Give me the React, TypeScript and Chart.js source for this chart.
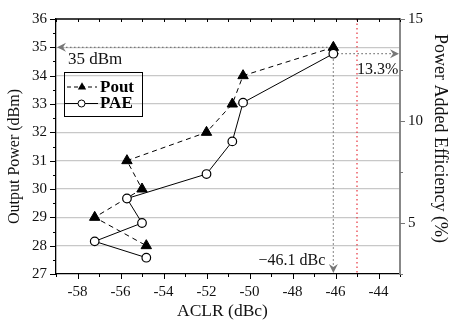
import React, { useEffect, useRef } from "react";
import { Chart, registerables } from "chart.js";

Chart.register(...registerables);

// ---- data ----
const aclr = [-46.1, -50.3, -50.8, -52.0, -55.7, -55.0, -57.2, -54.8];
const pout = [35, 34, 33, 32, 31, 30, 29, 28];
const pae = [13.3, 10.9, 9.0, 7.4, 6.2, 5.0, 4.1, 3.3];
const xTicks = [-58, -56, -54, -52, -50, -48, -46, -44];
const yLeftTicks = [27, 28, 29, 30, 31, 32, 33, 34, 35, 36];
const yRightTicks = [5, 10, 15];
const markAclr = -46.1;
const markPout = 35;
const markPae = 13.3;
const limitAclr = -45;
const labels = {
  pout: "35 dBm",
  pae: "13.3%",
  aclr: "\u221246.1 dBc",
  xTitle: "ACLR (dBc)",
  yTitle: "Output Power (dBm)",
  y1Title: "Power Added Efficiency (%)",
  s1: "Pout",
  s2: "PAE",
};

const SERIF = "'Liberation Serif', 'Times New Roman', serif";

function arrow(ctx: CanvasRenderingContext2D, tx: number, ty: number, dx: number, dy: number) {
  const L = 9, W = 4.5, N = 3;
  const nx = -dy, ny = dx;
  ctx.beginPath();
  ctx.moveTo(tx, ty);
  ctx.lineTo(tx - dx * L + nx * W, ty - dy * L + ny * W);
  ctx.lineTo(tx - dx * (L - N), ty - dy * (L - N));
  ctx.lineTo(tx - dx * L - nx * W, ty - dy * L - ny * W);
  ctx.closePath();
  ctx.fill();
}

function seg(ctx: CanvasRenderingContext2D, x1: number, y1: number, x2: number, y2: number) {
  ctx.beginPath();
  ctx.moveTo(x1, y1);
  ctx.lineTo(x2, y2);
  ctx.stroke();
}

const overlay = {
  id: "overlay",
  beforeDatasetsDraw(chart: any) {
    const { ctx, chartArea: a, scales } = chart;
    const x = scales.x, yl = scales.y, yr = scales.y1;
    ctx.save();
    // red limit line
    ctx.strokeStyle = "#e8323c";
    ctx.lineWidth = 1.2;
    ctx.setLineDash([1.5, 3]);
    const rx = x.getPixelForValue(limitAclr);
    seg(ctx, rx, a.top, rx, a.bottom);
    // gray guide lines
    ctx.strokeStyle = "#777";
    ctx.fillStyle = "#777";
    ctx.lineWidth = 1.2;
    ctx.setLineDash([1.5, 2.5]);
    const mx = x.getPixelForValue(markAclr);
    const py = yl.getPixelForValue(markPout);
    const ey = yr.getPixelForValue(markPae);
    seg(ctx, a.left + 6, py, mx, py);
    seg(ctx, mx, ey, a.right - 6, ey);
    seg(ctx, mx, py, mx, a.bottom - 6);
    ctx.setLineDash([]);
    arrow(ctx, a.left + 1, py, -1, 0);
    arrow(ctx, a.right - 1, ey, 1, 0);
    arrow(ctx, mx, a.bottom - 1, 0, 1);
    // labels
    ctx.fillStyle = "#111";
    ctx.textBaseline = "alphabetic";
    ctx.font = `17px ${SERIF}`;
    ctx.textAlign = "left";
    ctx.fillText(labels.pout, a.left + 12, py + 16.5);
    ctx.font = `16px ${SERIF}`;
    ctx.fillText(labels.pae, rx, ey + 20);
    ctx.textAlign = "right";
    ctx.fillText(labels.aclr, mx - 8, a.bottom - 9);
    ctx.restore();
  },
  afterDraw(chart: any) {
    const { ctx, chartArea: a, scales } = chart;
    const x = scales.x, yl = scales.y, yr = scales.y1;
    ctx.save();
    ctx.strokeStyle = "#000";
    ctx.lineWidth = 1;
    // top border
    ctx.lineWidth = 1.3;
    seg(ctx, a.left, a.top, a.right, a.top);
    ctx.lineWidth = 1;
    // top & bottom ticks
    for (let v = -59; v <= -43; v++) {
      const px = Math.round(x.getPixelForValue(v)) + 0.5;
      const major = v % 2 === 0;
      seg(ctx, px, a.bottom, px, a.bottom + (major ? 5 : 3));
      seg(ctx, px, a.top, px, a.top + 3);
    }
    // left ticks
    for (let v = 27; v <= 36; v += 0.5) {
      const py = Math.round(yl.getPixelForValue(v)) + 0.5;
      const major = Number.isInteger(v);
      seg(ctx, a.left - (major ? 6 : 3), py, a.left, py);
    }
    // right ticks
    ctx.strokeStyle = "#777";
    for (let v = 2.5; v <= 15; v += 2.5) {
      const py = Math.round(yr.getPixelForValue(v)) + 0.5;
      const major = v % 5 === 0;
      seg(ctx, a.right, py, a.right + (major ? 5 : 3), py);
    }
    // legend
    ctx.strokeStyle = "#000";
    ctx.lineWidth = 1;
    ctx.strokeRect(64.5, 72.5, 78, 44);
    ctx.setLineDash([4, 3]);
    seg(ctx, 67, 87, 97, 87);
    ctx.setLineDash([]);
    ctx.fillStyle = "#000";
    ctx.beginPath();
    const tr = 4.8, tx = 82, ty = 87;
    ctx.moveTo(tx, ty - tr);
    ctx.lineTo(tx + tr * 0.866, ty + tr / 2);
    ctx.lineTo(tx - tr * 0.866, ty + tr / 2);
    ctx.closePath();
    ctx.fill();
    seg(ctx, 65, 103.5, 98, 103.5);
    ctx.beginPath();
    ctx.arc(81.5, 103.5, 3.5, 0, Math.PI * 2);
    ctx.fillStyle = "#fff";
    ctx.fill();
    ctx.stroke();
    ctx.fillStyle = "#000";
    ctx.font = `bold 17px ${SERIF}`;
    ctx.textAlign = "left";
    ctx.textBaseline = "middle";
    ctx.fillText(labels.s1, 100, 87.5);
    ctx.fillText(labels.s2, 100, 104);
    // axis titles
    ctx.fillStyle = "#111";
    ctx.textAlign = "center";
    ctx.font = `17.5px ${SERIF}`;
    ctx.fillText(labels.xTitle, 222.5, 311.5);
    ctx.save();
    ctx.translate(14.5, 156.5);
    ctx.rotate(-Math.PI / 2);
    ctx.font = `16px ${SERIF}`;
    ctx.fillText(labels.yTitle, 0, 0);
    ctx.restore();
    ctx.save();
    ctx.translate(440, 138.5);
    ctx.rotate(Math.PI / 2);
    ctx.font = `18px ${SERIF}`;
    ctx.fillText(labels.y1Title, 0, 0);
    ctx.restore();
    ctx.restore();
  },
};

export default function App() {
  const ref = useRef<HTMLCanvasElement | null>(null);
  useEffect(() => {
    if (!ref.current) return;
    const tickFont = { family: SERIF, size: 15 };
    const chart = new Chart(ref.current, {
      type: "scatter",
      data: {
        datasets: [
          {
            label: labels.s2,
            data: aclr.map((v, i) => ({ x: v, y: pae[i] })),
            yAxisID: "y1",
            showLine: true,
            borderColor: "#000",
            borderWidth: 1,
            pointStyle: "circle",
            pointRadius: 4.3,
            pointBackgroundColor: "#fff",
            pointBorderColor: "#000",
            pointBorderWidth: 1.2,
            order: 0,
          },
          {
            label: labels.s1,
            data: aclr.map((v, i) => ({ x: v, y: pout[i] })),
            yAxisID: "y",
            showLine: true,
            borderColor: "#000",
            borderWidth: 1,
            borderDash: [5, 4],
            pointStyle: "triangle",
            pointRadius: 6,
            pointBackgroundColor: "#000",
            pointBorderColor: "#000",
            pointBorderWidth: 1,
            order: 1,
          },
        ],
      },
      options: {
        responsive: false,
        animation: false,
        layout: { padding: { top: 19, left: 0, right: 0, bottom: 0 } },
        plugins: { legend: { display: false }, tooltip: { enabled: false } },
        scales: {
          x: {
            type: "linear",
            position: "bottom",
            min: -59,
            max: -43,
            afterBuildTicks: (s: any) => {
              s.ticks = xTicks.map((v) => ({ value: v }));
            },
            afterFit: (s: any) => {
              s.height = 47;
            },
            grid: { display: false, drawTicks: false },
            border: { display: true, color: "#000", width: 1.3 },
            ticks: { padding: 9, color: "#111", font: tickFont, callback: (v: any) => String(v), maxRotation: 0 },
          },
          y: {
            type: "linear",
            position: "left",
            min: 27,
            max: 36,
            afterBuildTicks: (s: any) => {
              s.ticks = yLeftTicks.map((v) => ({ value: v }));
            },
            afterFit: (s: any) => {
              s.width = 56;
            },
            grid: {
              drawTicks: false,
              lineWidth: 1.3,
              color: (c: any) =>
                c.tick && c.tick.value > 27 && c.tick.value < 36 ? "#c8c8c8" : "rgba(0,0,0,0)",
            },
            border: { display: true, color: "#000", width: 1.3 },
            ticks: { padding: 9, color: "#111", font: tickFont },
          },
          y1: {
            type: "linear",
            position: "right",
            min: 2.5,
            max: 15,
            afterBuildTicks: (s: any) => {
              s.ticks = yRightTicks.map((v) => ({ value: v }));
            },
            afterFit: (s: any) => {
              s.width = 52;
            },
            grid: { drawOnChartArea: false, drawTicks: false },
            border: { display: true, color: "#888", width: 2 },
            ticks: { padding: 8, color: "#111", font: tickFont },
          },
        },
      },
      plugins: [overlay],
    } as any);
    return () => chart.destroy();
  }, []);
  return (
    <div style={{ position: "fixed", left: 0, top: 0, width: 452, height: 321, background: "#fff" }}>
      <canvas ref={ref} width={452} height={321} style={{ display: "block", width: 452, height: 321 }} />
    </div>
  );
}
